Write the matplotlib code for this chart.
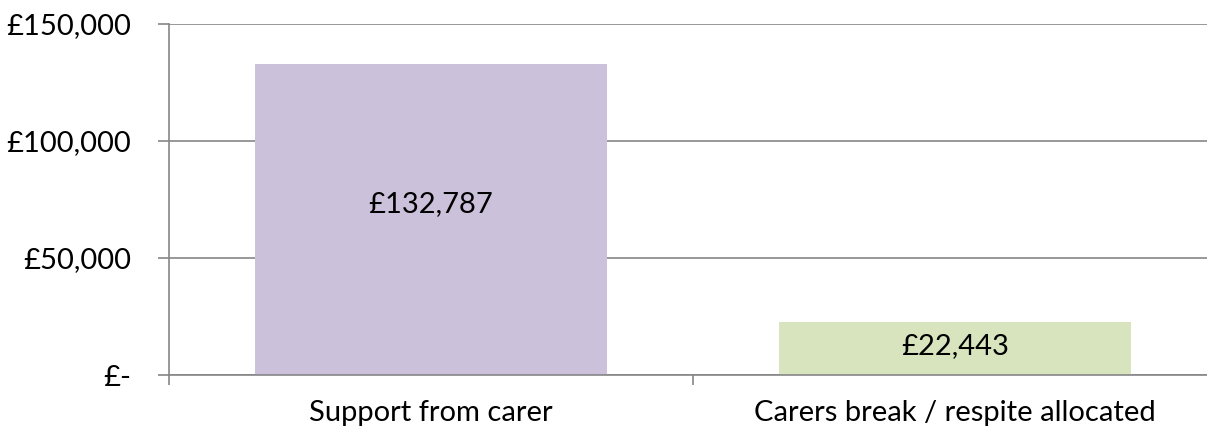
import matplotlib.pyplot as plt
from matplotlib.ticker import FuncFormatter

categories = ["Support from carer", "Carers break / respite allocated"]
values = [132787, 22443]
bar_colors = ["#CCC1DA", "#D7E4BD"]
y_ticks = [0, 50000, 100000, 150000]

plt.rcParams["font.family"] = ["Lato", "DejaVu Sans"]

fig = plt.figure(figsize=(12.07, 4.26), dpi=100)
ax = fig.add_axes([169 / 1207, 1 - 375 / 426, 1048 / 1207, 351 / 426])

x = range(len(categories))
bars = ax.bar(x, values, width=0.67, color=bar_colors, zorder=2)

# label nudges (in data units) so the text sits where the original put it
nudge = [6600, 1000]
for b, v, dy in zip(bars, values, nudge):
    ax.text(b.get_x() + b.get_width() / 2, v / 2 + dy, f"£{v:,.0f}",
            ha="center", va="center", fontsize=21, color="black", zorder=3)


def money(v, pos):
    if v == 0:
        return "£-"
    return f"£{v:,.0f}"


ax.set_xlim(-0.5, 1.5)
ax.set_ylim(0, 150000)
ax.set_yticks(y_ticks)
ax.yaxis.set_major_formatter(FuncFormatter(money))
ax.set_xticks([-0.5, 0.5, 1.5], minor=False)
ax.set_xticklabels([])
ax.set_xticks(list(x), minor=True)
ax.set_xticklabels(categories, minor=True)
ax.tick_params(axis="x", which="minor", length=0, pad=18, labelsize=21)
ax.tick_params(axis="x", which="major", length=7, width=1.2, color="#868686")
ax.tick_params(axis="y", length=8, width=1.2, color="#868686", labelsize=21, pad=19)

ax.grid(axis="y", color="#868686", linewidth=1.2, zorder=0)
for s in ["top", "right"]:
    ax.spines[s].set_visible(False)
for s in ["left", "bottom"]:
    ax.spines[s].set_color("#868686")
    ax.spines[s].set_linewidth(1.2)

fig.savefig("out.png", dpi=100)
